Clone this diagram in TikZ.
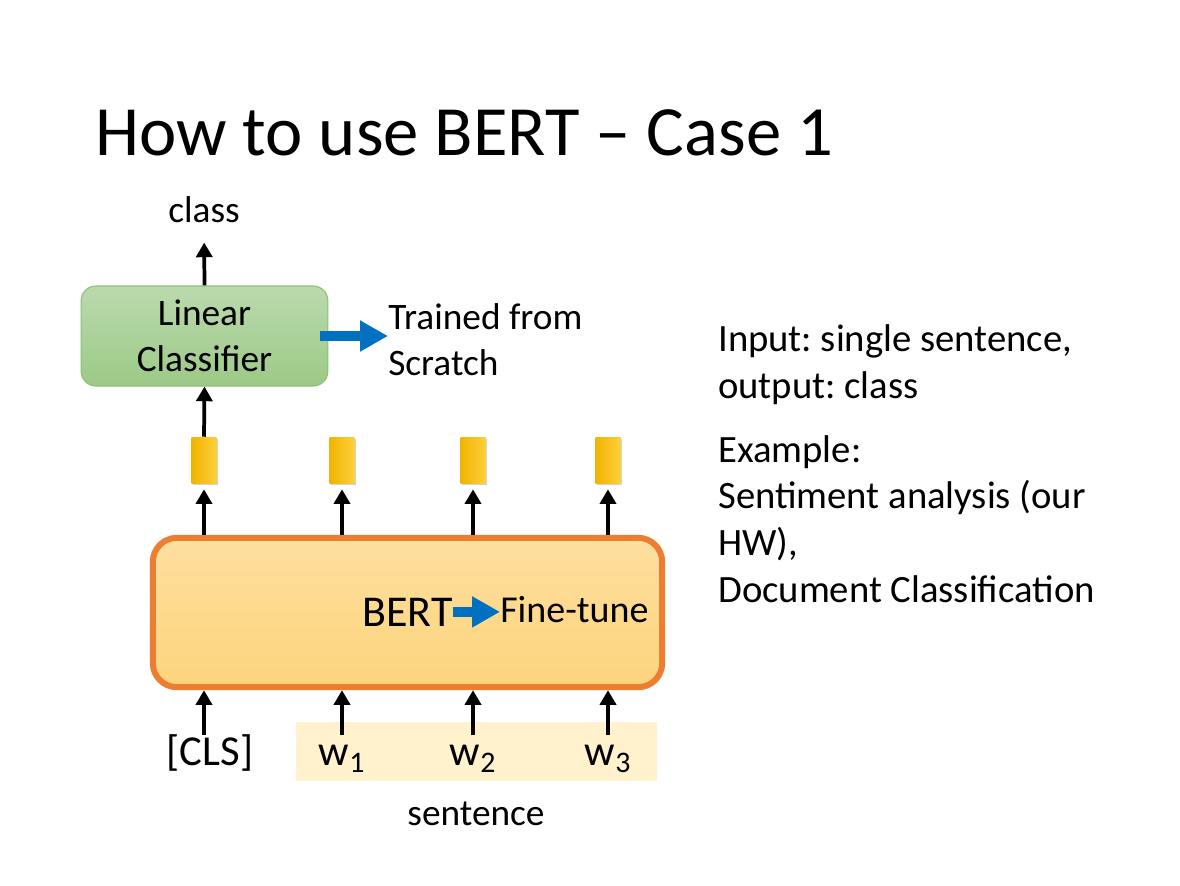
\documentclass[tikz,border=0pt]{standalone}
\usepackage{fontspec}
\setmainfont{Carlito}
\frenchspacing
\usetikzlibrary{arrows.meta,shadows,positioning}

\definecolor{linTop}{HTML}{BADAAD}
\definecolor{linBot}{HTML}{9DC987}
\definecolor{linLine}{HTML}{8CBF75}
\definecolor{bertTop}{HTML}{FEDF9F}
\definecolor{bertBot}{HTML}{FDD47C}
\definecolor{bertLine}{HTML}{ED7D31}
\definecolor{vecL}{HTML}{F0B400}
\definecolor{vecR}{HTML}{FFCF3C}
\definecolor{bandFill}{HTML}{FFF2CC}
\definecolor{arrBlue}{HTML}{0070C0}

\begin{document}
\begin{tikzpicture}[x=0.75pt,y=-0.75pt]
\tikzset{up/.style={line width=2.8pt,-{Triangle[length=11pt,width=12pt]}}}
\tikzset{bluearrow/.style={draw=arrBlue,line width=8pt,-{Triangle[length=21pt,width=22pt]}}}
\tikzset{vec/.style={minimum width=18.75pt,minimum height=34.5pt,inner sep=0pt,left color=vecL,right color=vecR,drop shadow={shadow xshift=0.8pt,shadow yshift=-1.2pt,opacity=0.35}}}
\tikzset{lbl/.style={inner sep=0pt,font=\fontsize{28}{34.5}\selectfont}}
\tikzset{word/.style={anchor=base,inner sep=0pt,text height=22pt,text depth=6pt,font=\fontsize{32}{38}\selectfont}}
\useasboundingbox (0,0) rectangle (1180,885);

\node[anchor=base west,inner sep=0pt,font=\fontsize{53}{60}\selectfont] (title) at (95,155) {How to use BERT -- Case 1};

\node[draw=linLine,line width=0.8pt,rounded corners=11pt,top color=linTop,bottom color=linBot,minimum width=185pt,minimum height=75pt,align=center,lbl] (lin) at (204.5,336) {Linear\\Classifier};
\node[lbl,anchor=base] (cls) at (204,222) {class};
\node[lbl,anchor=base west,align=left] (scratch) at (388,375) {Trained from\\Scratch};

\foreach \x [count=\i from 0] in {204,342,473,608}
  \node[vec] (v\i) at (\x,460) {};

\node[draw=bertLine,line width=4.5pt,rounded corners=18pt,top color=bertTop,bottom color=bertBot,minimum width=382pt,minimum height=112pt] (bert) at (407.5,612.5) {};
\node[anchor=base west,inner sep=0pt,font=\fontsize{33}{38}\selectfont] (bt) at (362,626) {BERT};
\node[anchor=base west,inner sep=0pt,font=\fontsize{28.5}{34}\selectfont] (ft) at (500,622) {Fine-tune};

\node[fill=bandFill,minimum width=270.75pt,minimum height=44.25pt,inner sep=0pt] (band) at (476.5,751.5) {};
\node[word] (w0) at (210,765) {[CLS]};
\node[word] (w1) at (342,765) {w\textsubscript{1}};
\node[word] (w2) at (473,765) {w\textsubscript{2}};
\node[word] (w3) at (608,765) {w\textsubscript{3}};
\node[lbl,anchor=base] (sent) at (476,825) {sentence};

\node[anchor=base west,inner sep=0pt,align=left,font=\fontsize{29}{35}\selectfont] (task) at (718,398) {Input: single sentence,\\output: class};
\node[anchor=base west,inner sep=0pt,align=left,font=\fontsize{29}{35}\selectfont] (ex) at (718,602) {Example:\\Sentiment analysis (our\\HW),\\Document Classification};

\draw[up,shorten >=15pt] (lin.north) -- (cls.south);
\draw[up] (v0.north) -- (lin.south);
\draw[bluearrow] ([xshift=-6pt]lin.east) -- (lin.east -| scratch.west);
\foreach \i in {0,...,3} {
  \draw[up,shorten >=4.5pt] (bert.north -| v\i) -- (v\i.south);
  \draw[up] (w\i.north -| v\i) -- (bert.south -| v\i);
}
\draw[bluearrow] (bt.east) -- (bt.east -| ft.west);
\end{tikzpicture}
\end{document}
